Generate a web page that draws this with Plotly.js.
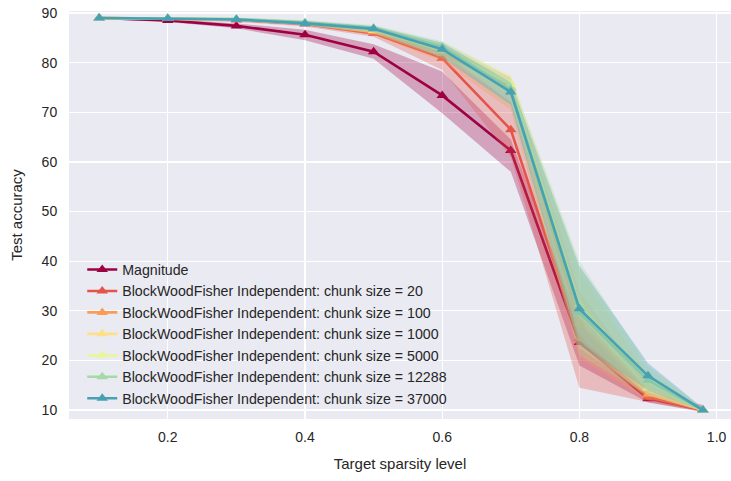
<!DOCTYPE html>
<html>
<head>
<meta charset="utf-8">
<script src="https://cdn.plot.ly/plotly-3.0.1.min.js"></script>
<style>
  html, body { margin: 0; padding: 0; background: #ffffff; overflow: hidden; }
  #chart { width: 731px; height: 481px; }
</style>
</head>
<body>
<div id="chart"></div>
<script>
// Target sparsity levels (x)
const sparsity = [0.1, 0.2, 0.3, 0.4, 0.5, 0.6, 0.7, 0.8, 0.9, 0.98];

// Series names
const seriesNames = [
  "Magnitude",
  "BlockWoodFisher Independent: chunk size = 20",
  "BlockWoodFisher Independent: chunk size = 100",
  "BlockWoodFisher Independent: chunk size = 1000",
  "BlockWoodFisher Independent: chunk size = 5000",
  "BlockWoodFisher Independent: chunk size = 12288",
  "BlockWoodFisher Independent: chunk size = 37000"
];

// Mean test accuracy per method
const magnitude   = [89.0, 88.5, 87.4, 85.6, 82.2, 73.4, 62.3, 23.6, 12.3, 10.0];
const chunk20     = [89.0, 88.9, 88.6, 87.8, 85.9, 80.9, 66.5, 24.4, 12.6, 10.0];
const chunk100    = [89.0, 88.9, 88.7, 87.9, 86.2, 81.9, 75.0, 27.5, 13.2, 10.0];
const chunk1000   = [89.0, 88.9, 88.7, 88.0, 86.5, 82.5, 75.8, 29.5, 14.5, 10.0];
const chunk5000   = [89.0, 88.9, 88.7, 88.0, 86.8, 83.0, 75.6, 31.4, 15.8, 10.0];
const chunk12288  = [89.0, 88.9, 88.8, 88.1, 87.0, 83.2, 74.6, 29.6, 16.0, 10.0];
const chunk37000  = [89.0, 88.9, 88.7, 87.9, 86.8, 82.7, 74.1, 30.4, 16.9, 10.0];

// Spread (lower / upper) per method
const magnitudeLow  = [88.8, 88.2, 86.9, 84.5, 80.8, 69.8, 58.0, 19.0, 11.5, 9.6];
const magnitudeHigh = [89.2, 88.8, 87.9, 86.6, 83.7, 78.2, 64.5, 27.5, 13.6, 11.0];
const chunk20Low    = [88.8, 88.6, 88.2, 87.3, 85.2, 78.5, 61.0, 14.5, 11.6, 9.7];
const chunk20High   = [89.2, 89.1, 88.9, 88.3, 86.6, 82.2, 72.0, 31.0, 14.0, 10.5];
const chunk100Low   = [88.8, 88.7, 88.4, 87.5, 85.6, 80.2, 70.5, 20.5, 12.0, 9.7];
const chunk100High  = [89.2, 89.1, 89.0, 88.4, 86.9, 83.4, 77.0, 34.0, 15.0, 10.5];
const chunk1000Low  = [88.8, 88.7, 88.4, 87.6, 85.9, 81.0, 72.5, 22.5, 13.0, 9.8];
const chunk1000High = [89.2, 89.1, 89.0, 88.5, 87.2, 84.0, 77.5, 38.0, 17.0, 10.4];
const chunk5000Low  = [88.8, 88.7, 88.4, 87.6, 86.1, 81.6, 73.0, 24.0, 13.5, 9.8];
const chunk5000High = [89.2, 89.1, 89.0, 88.5, 87.4, 84.2, 77.5, 39.0, 18.0, 10.4];
const chunk12288Low = [88.8, 88.7, 88.5, 87.7, 86.3, 81.6, 71.0, 21.0, 13.0, 9.8];
const chunk12288High= [89.2, 89.1, 89.1, 88.6, 87.6, 84.3, 77.0, 40.0, 19.0, 10.4];
const chunk37000Low = [88.8, 88.7, 88.4, 87.5, 86.1, 81.0, 71.5, 23.0, 14.0, 9.8];
const chunk37000High= [89.2, 89.1, 89.0, 88.4, 87.4, 84.0, 76.0, 39.0, 19.5, 10.4];

// Axis ticks
const xTicks = [0.2, 0.4, 0.6, 0.8, 1.0];
const yTicks = [10, 20, 30, 40, 50, 60, 70, 80, 90];

// Spectral-style colours, one per method
const colors = ["#9e0142", "#e5544a", "#fa9c57", "#fee08b", "#e8f59c", "#a4daa4", "#48a0b3"];

const means = [magnitude, chunk20, chunk100, chunk1000, chunk5000, chunk12288, chunk37000];
const lows  = [magnitudeLow, chunk20Low, chunk100Low, chunk1000Low, chunk5000Low, chunk12288Low, chunk37000Low];
const highs = [magnitudeHigh, chunk20High, chunk100High, chunk1000High, chunk5000High, chunk12288High, chunk37000High];

function hexToRgba(hex, a) {
  const n = parseInt(hex.slice(1), 16);
  return `rgba(${(n >> 16) & 255},${(n >> 8) & 255},${n & 255},${a})`;
}

const traces = [];
means.forEach((m, i) => {
  // shaded spread band
  traces.push({
    x: sparsity.concat(sparsity.slice().reverse()),
    y: highs[i].concat(lows[i].slice().reverse()),
    type: "scatter",
    mode: "lines",
    fill: "toself",
    fillcolor: hexToRgba(colors[i], 0.3),
    line: { width: 0, color: "rgba(0,0,0,0)" },
    hoverinfo: "skip",
    showlegend: false
  });
  // mean curve
  traces.push({
    x: sparsity,
    y: m,
    name: seriesNames[i],
    type: "scatter",
    mode: "lines+markers",
    line: { color: colors[i], width: 2.6 },
    marker: { symbol: "triangle-up", size: 10, color: colors[i] }
  });
});

const layout = {
  width: 731,
  height: 481,
  margin: { l: 69, r: 0, t: 11, b: 62 },
  paper_bgcolor: "#ffffff",
  plot_bgcolor: "#eaeaf2",
  font: { family: "Liberation Sans, Arial, sans-serif", color: "#262626", size: 14 },
  showlegend: true,
  legend: {
    x: 0.02, y: 0.405, xanchor: "left", yanchor: "top",
    bgcolor: "rgba(0,0,0,0)",
    font: { size: 14.2, color: "#262626" },
    tracegroupgap: 0
  },
  xaxis: {
    range: [0.056, 1.021],
    tickvals: xTicks,
    tickformat: ".1f",
    showgrid: true, gridcolor: "#ffffff", gridwidth: 1.3,
    zeroline: false, showline: false,
    ticks: "outside", ticklen: 5, tickcolor: "rgba(0,0,0,0)",
    tickfont: { size: 14, color: "#262626" },
    automargin: true,
    title: { text: "Target sparsity level", standoff: 14, font: { size: 15, color: "#262626" } }
  },
  yaxis: {
    range: [8.2, 90.4],
    tickvals: yTicks,
    showgrid: true, gridcolor: "#ffffff", gridwidth: 1.3,
    zeroline: false, showline: false,
    ticks: "outside", ticklen: 8, tickcolor: "rgba(0,0,0,0)",
    tickfont: { size: 14, color: "#262626" },
    automargin: true,
    title: { text: "Test accuracy", standoff: 15, font: { size: 15, color: "#262626" } }
  }
};

Plotly.newPlot("chart", traces, layout, { staticPlot: true, displayModeBar: false });
</script>
</body>
</html>
